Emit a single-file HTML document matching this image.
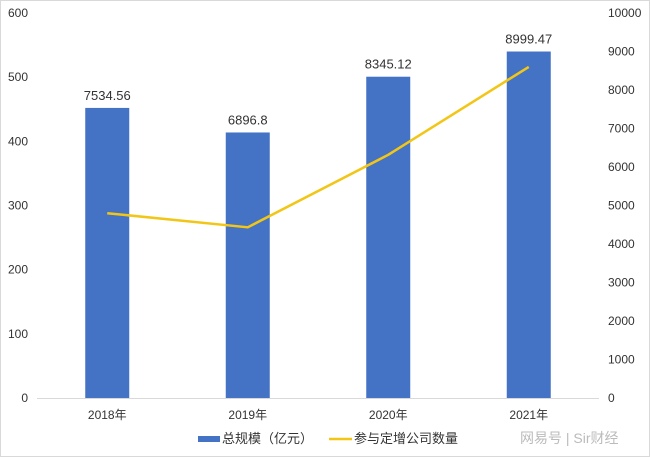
<!DOCTYPE html>
<html><head><meta charset="utf-8"><style>
body{margin:0;background:#fff}
svg{display:block;font-family:"Liberation Sans","Noto Sans CJK SC",sans-serif}
</style></head><body>
<svg id="c" width="650" height="457">
<rect x="0.5" y="0.5" width="649" height="456" fill="#fff" stroke="#d9d9d9"/>
<g id="g"></g>
<g>
<rect x="198" y="436" width="22" height="6" fill="#4472C4"/>
<text x="222" y="443" font-size="13" fill="#333">总规模（亿元）</text>
<line x1="329" y1="439" x2="352" y2="439" stroke="#F2C617" stroke-width="2.5"/>
<text x="354" y="443" font-size="13" fill="#333">参与定增公司数量</text>
</g>
<text x="520" y="443" font-size="14" fill="#bbb">网易号 | Sir财经</text>
</svg>
<script>
const categories=["2018年","2019年","2020年","2021年"];
const scaleValues=[7534.56,6896.8,8345.12,8999.47];
const scaleLabels=["7534.56","6896.8","8345.12","8999.47"];
const companyCounts=[288,266,379,516];
const leftTicks=[0,100,200,300,400,500,600];
const rightTicks=[0,1000,2000,3000,4000,5000,6000,7000,8000,9000,10000];
const NS="http://www.w3.org/2000/svg",g=document.getElementById('g');
const x0=37,x1=599,yb=398,yt=13;
const band=(x1-x0)/categories.length;
const xc=i=>x0+band*(i+0.5);
const yL=v=>yb-(v/600)*(yb-yt);
const yR=v=>yb-(v/10000)*(yb-yt);
function mk(t,a,txt){const e=document.createElementNS(NS,t);for(const k in a)e.setAttribute(k,a[k]);if(txt!==undefined)e.textContent=txt;g.appendChild(e);return e;}
leftTicks.forEach(v=>{const e=mk('text',{x:28,y:yL(v)+4,'text-anchor':'end','font-size':12,fill:'#333'},v);

});
rightTicks.forEach(v=>{const e=mk('text',{x:608,y:yR(v)+4,'font-size':12,fill:'#333'},v);

});
scaleValues.forEach((v,i)=>{const e=mk('rect',{x:xc(i)-22,y:yR(v),width:44,height:yb-yR(v),fill:'#4472C4'});


const t=mk('text',{x:xc(i),y:yR(v)-8,'text-anchor':'middle','font-size':13,fill:'#333'},scaleLabels[i]);


const c=mk('text',{x:xc(i),y:419,'text-anchor':'middle','font-size':12,fill:'#333'},categories[i]);

});
const ax=mk('line',{x1:x0,y1:yb+0.5,x2:x1,y2:yb+0.5,stroke:'#d9d9d9'});


const pl=mk('polyline',{points:companyCounts.map((v,i)=>xc(i)+','+yL(v)).join(' '),fill:'none',stroke:'#F2C617','stroke-width':2.5,'stroke-linejoin':'round'});


</script>
</body></html>
